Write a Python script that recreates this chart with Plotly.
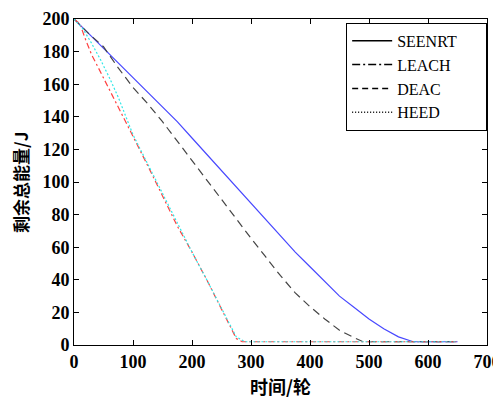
import plotly.graph_objects as go

# SEENRT (blue solid)
seenrt_x = [0, 25, 50, 75, 100, 125, 150, 175, 200, 225, 250, 275, 300, 325, 350,
            375, 400, 425, 450, 475, 500, 525, 550, 575, 600, 625, 650]
seenrt_y = [200, 191, 182, 173, 164, 155, 146, 137, 127, 117, 107, 97, 87, 77, 67,
            57, 48, 39, 30, 23, 16, 10, 5, 2, 2, 2, 2]

# DEAC (black dashed)
deac_x = [0, 25, 50, 75, 100, 125, 150, 175, 200, 225, 250, 275, 300, 325, 350,
          375, 400, 425, 450, 475, 490, 525, 575, 625, 650]
deac_y = [200, 191, 183, 170, 158, 148, 137, 125, 113, 101, 89, 77, 65.5, 54, 42.5,
          32, 23.5, 16, 9, 4.5, 2, 2, 2, 2, 2]

# LEACH (red dash-dot)
leach_x = [0, 10, 20, 30, 40, 50, 60, 75, 100, 125, 150, 175, 200, 225, 250, 275,
           285, 350, 450, 550, 650]
leach_y = [200, 197, 187, 178, 171, 164, 157, 146, 128, 110, 92, 73, 57, 40, 22, 4,
           2, 2, 2, 2, 2]

# HEED (cyan dotted)
heed_x = [0, 15, 30, 45, 60, 75, 100, 125, 150, 175, 200, 225, 250, 275, 290, 350,
          450, 550, 650]
heed_y = [200, 194, 185, 175, 164, 152, 129, 111, 93, 74, 57, 40, 22, 5, 2, 2,
          2, 2, 2]

names = ["SEENRT", "LEACH", "DEAC", "HEED"]
x_ticks = [0, 100, 200, 300, 400, 500, 600, 700]
y_ticks = [0, 20, 40, 60, 80, 100, 120, 140, 160, 180, 200]
x_title = "时间/轮"
y_title = "剩余总能量/J"

serif = "Liberation Serif"
cjk = "Noto Sans CJK SC"

fig = go.Figure()
fig.add_trace(go.Scatter(x=seenrt_x, y=seenrt_y, mode="lines", showlegend=False,
                         line=dict(color="#4848ff", width=1.2)))
fig.add_trace(go.Scatter(x=deac_x, y=deac_y, mode="lines", showlegend=False,
                         line=dict(color="#444444", width=1.2, dash="8px,5px")))
fig.add_trace(go.Scatter(x=leach_x, y=leach_y, mode="lines", showlegend=False,
                         line=dict(color="#ff4040", width=1.2, dash="6px,3px,2px,3px")))
fig.add_trace(go.Scatter(x=heed_x, y=heed_y, mode="lines", showlegend=False,
                         line=dict(color="#30e8e8", width=1.2, dash="2px,2px")))

# legend entries (black like the reference)
legend_dash = ["solid", "8px,3px,2px,3px", "6px,4px", "1px,2px"]
pad = "\u00a0" * 6
for n, d in zip(names, legend_dash):
    fig.add_trace(go.Scatter(x=[None], y=[None], mode="lines", name=n + pad,
                             line=dict(color="black", width=1.5, dash=d)))

axis_common = dict(showline=True, linecolor="black", linewidth=1, mirror="ticks",
                   ticks="inside", ticklen=5, tickcolor="black", showgrid=False,
                   zeroline=False, automargin=False,
                   tickfont=dict(family=serif, size=18, color="black", weight="bold"))

fig.update_layout(
    width=493, height=391,
    margin=dict(l=66, r=14, t=11, b=54),
    paper_bgcolor="white", plot_bgcolor="white",
    xaxis=dict(range=[0, 700], tickvals=x_ticks, **axis_common),
    yaxis=dict(range=[0, 200], tickvals=y_ticks, **axis_common),
    legend=dict(x=0.659, y=0.988, xanchor="left", yanchor="top",
                bgcolor="white", bordercolor="black", borderwidth=1,
                font=dict(family=serif, size=16, color="black"),
                tracegroupgap=0, itemwidth=40),
    annotations=[
        dict(text=x_title, xref="paper", yref="paper", x=0.499, y=-0.126,
             xanchor="center", yanchor="middle", showarrow=False,
             font=dict(family=cjk, size=18, color="black", weight="bold")),
        dict(text=y_title, xref="paper", yref="paper", x=-0.131, y=0.5,
             xanchor="center", yanchor="middle", showarrow=False, textangle=-90,
             font=dict(family=cjk, size=17, color="black", weight="bold")),
    ],
)

fig.write_html("out.html")
